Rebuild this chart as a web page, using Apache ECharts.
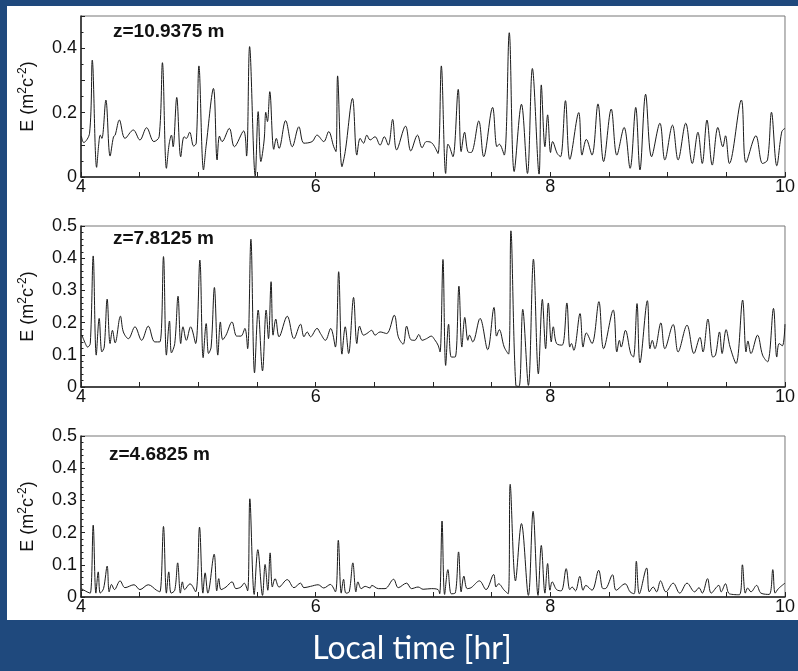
<!DOCTYPE html>
<html>
<head>
<meta charset="utf-8">
<script src="https://cdn.jsdelivr.net/npm/echarts@6/dist/echarts.min.js"></script>
<style>
html,body{margin:0;padding:0;background:#1f497d;}
#chart{width:798px;height:671px;}
</style>
</head>
<body>
<div id="chart"></div>
<script>
// Panel labels
const panelLabels = ['z=10.9375 m', 'z=7.8125 m', 'z=4.6825 m'];
const xTickValues = [4, 6, 8, 10];
const xAxisTitle = 'Local time [hr]';

// Panel 1: z=10.9375 m  (time [hr], E)
const t1 = [4.003,4.023,4.073,4.096,4.133,4.152,4.164,4.178,4.212,4.248,4.277,4.291,4.327,4.375,4.446,4.502,4.559,4.621,4.666,4.694,4.728,4.751,4.771,4.785,4.816,4.850,4.878,4.898,4.926,4.960,4.982,5.005,5.044,5.067,5.129,5.160,5.180,5.202,5.264,5.307,5.386,5.411,5.437,5.485,5.510,5.533,5.561,5.575,5.589,5.609,5.643,5.665,5.688,5.744,5.801,5.857,5.900,5.970,6.012,6.069,6.111,6.154,6.173,6.187,6.224,6.252,6.314,6.351,6.379,6.408,6.436,6.464,6.506,6.549,6.585,6.619,6.656,6.690,
  6.766,6.811,6.868,6.907,6.944,6.986,7.014,7.043,7.071,7.108,7.127,7.141,7.170,7.215,7.240,7.269,7.297,7.325,7.390,7.432,7.508,7.545,7.565,7.607,7.650,7.692,7.754,7.805,7.847,7.904,7.923,7.954,7.977,8.002,8.019,8.059,8.087,8.129,8.166,8.242,8.270,8.307,8.355,8.406,8.454,8.519,8.567,8.629,8.680,8.728,8.764,8.812,8.863,8.934,8.976,9.041,9.089,9.154,9.210,9.258,9.295,9.335,9.380,9.428,9.470,9.493,9.526,9.628,9.668,9.752,9.809,9.851,9.885,9.930,9.973,10.0];
const e1 = [0.127,0.107,0.136,0.363,0.030,0.105,0.130,0.120,0.239,0.065,0.125,0.130,0.177,0.120,0.146,0.115,0.153,0.110,0.125,0.355,0.027,0.102,0.130,0.094,0.247,0.063,0.125,0.120,0.139,0.096,0.105,0.345,0.022,0.099,0.275,0.053,0.127,0.110,0.151,0.094,0.143,0.065,0.405,0.003,0.203,0.048,0.115,0.201,0.172,0.265,0.086,0.120,0.089,0.175,0.094,0.156,0.105,0.110,0.130,0.110,0.141,0.094,0.079,0.314,0.032,0.079,0.244,0.068,0.120,0.105,0.130,0.115,0.125,0.099,0.125,0.099,0.179,0.084,
  0.158,0.081,0.130,0.091,0.110,0.107,0.094,0.073,0.345,0.011,0.102,0.094,0.063,0.272,0.079,0.139,0.079,0.076,0.174,0.063,0.216,0.094,0.102,0.068,0.448,0.017,0.226,0.011,0.337,0.009,0.286,0.094,0.193,0.076,0.110,0.073,0.063,0.237,0.055,0.200,0.068,0.117,0.068,0.227,0.048,0.211,0.068,0.154,0.027,0.216,0.022,0.257,0.063,0.167,0.053,0.161,0.053,0.167,0.042,0.139,0.042,0.177,0.037,0.154,0.094,0.128,0.042,0.239,0.045,0.128,0.042,0.053,0.201,0.035,0.141,0.151];

// Panel 2: z=7.8125 m
const t2 = [4.008,4.037,4.056,4.079,4.104,4.130,4.155,4.178,4.198,4.223,4.248,4.268,4.291,4.336,4.361,4.404,4.460,4.517,4.573,4.629,4.672,4.703,4.728,4.754,4.771,4.799,4.827,4.850,4.869,4.898,4.934,4.977,5.013,5.041,5.067,5.087,5.109,5.137,5.166,5.188,5.208,5.236,5.287,5.327,5.363,5.397,5.420,5.448,5.479,5.510,5.547,5.578,5.598,5.620,5.637,5.660,5.688,5.758,5.815,5.871,5.900,5.928,5.956,6.012,6.041,6.083,6.128,6.168,6.196,6.224,6.252,6.281,6.323,6.351,6.374,6.408,6.436,6.478,6.506,6.549,6.605,6.670,6.704,
  6.746,6.775,6.811,6.845,6.879,6.907,6.944,6.986,7.014,7.043,7.060,7.085,7.108,7.133,7.156,7.189,7.221,7.246,7.271,7.297,7.311,7.339,7.401,7.466,7.520,7.542,7.565,7.607,7.644,7.664,7.706,7.734,7.765,7.813,7.856,7.898,7.932,7.960,7.983,8.008,8.025,8.053,8.101,8.141,8.166,8.180,8.200,8.253,8.279,8.307,8.355,8.414,8.454,8.536,8.567,8.589,8.604,8.640,8.685,8.708,8.739,8.764,8.827,8.849,8.869,8.891,8.942,8.976,9.047,9.089,9.165,9.224,9.275,9.301,9.343,9.385,9.408,9.442,9.464,9.498,9.532,9.583,9.639,9.668,9.684,9.710,9.766,9.809,9.851,9.902,9.930,9.950,9.978,10.0];
const e2 = [0.161,0.135,0.124,0.135,0.407,0.099,0.213,0.109,0.124,0.273,0.135,0.176,0.137,0.220,0.171,0.150,0.187,0.145,0.189,0.140,0.140,0.405,0.099,0.205,0.106,0.135,0.282,0.135,0.187,0.145,0.187,0.135,0.394,0.091,0.197,0.104,0.124,0.309,0.099,0.202,0.147,0.161,0.202,0.158,0.158,0.182,0.119,0.459,0.044,0.239,0.050,0.239,0.150,0.327,0.161,0.211,0.156,0.220,0.150,0.195,0.156,0.171,0.156,0.182,0.166,0.145,0.182,0.124,0.358,0.102,0.187,0.104,0.278,0.135,0.189,0.161,0.166,0.176,0.161,0.171,0.166,0.223,0.156,
  0.133,0.189,0.147,0.145,0.163,0.145,0.150,0.158,0.147,0.130,0.109,0.396,0.067,0.195,0.093,0.093,0.313,0.124,0.216,0.145,0.161,0.140,0.213,0.116,0.247,0.158,0.178,0.124,0.102,0.485,0.005,0.002,0.241,0.005,0.397,0.041,0.272,0.119,0.261,0.140,0.187,0.135,0.130,0.261,0.124,0.135,0.114,0.228,0.124,0.168,0.135,0.265,0.119,0.239,0.109,0.145,0.124,0.176,0.104,0.093,0.259,0.075,0.268,0.119,0.145,0.119,0.199,0.119,0.194,0.109,0.192,0.104,0.154,0.109,0.211,0.093,0.099,0.171,0.104,0.178,0.124,0.073,0.270,0.109,0.143,0.104,0.161,0.099,0.078,0.244,0.093,0.135,0.128,0.195];

// Panel 3: z=4.6825 m
const t3 = [4.003,4.051,4.079,4.104,4.127,4.147,4.164,4.192,4.223,4.240,4.260,4.285,4.333,4.375,4.452,4.502,4.573,4.644,4.672,4.703,4.728,4.748,4.768,4.799,4.824,4.847,4.864,4.883,4.929,4.977,5.010,5.039,5.058,5.081,5.135,5.157,5.174,5.194,5.236,5.287,5.321,5.363,5.391,5.420,5.439,5.476,5.507,5.547,5.569,5.592,5.612,5.631,5.654,5.688,5.758,5.815,5.871,5.900,5.956,6.021,6.069,6.125,6.168,6.193,6.218,6.238,6.258,6.286,6.317,6.343,6.360,6.388,6.422,6.464,6.478,6.535,6.591,6.664,6.704,
  6.775,6.817,6.873,6.916,6.986,7.043,7.057,7.077,7.099,7.127,7.156,7.189,7.218,7.240,7.263,7.291,7.325,7.396,7.452,7.517,7.537,7.559,7.607,7.641,7.658,7.703,7.754,7.813,7.853,7.895,7.923,7.954,7.977,7.997,8.016,8.053,8.093,8.135,8.166,8.186,8.214,8.251,8.279,8.302,8.355,8.412,8.448,8.468,8.530,8.561,8.637,8.680,8.714,8.733,8.759,8.821,8.843,8.877,8.906,8.939,8.985,9.047,9.103,9.165,9.230,9.267,9.295,9.340,9.371,9.436,9.456,9.493,9.526,9.611,9.637,9.662,9.682,9.710,9.758,9.795,9.865,9.896,9.916,9.944,10.0];
const e3 = [0.026,0.016,0.012,0.223,0.012,0.078,0.012,0.026,0.096,0.016,0.039,0.023,0.050,0.029,0.038,0.023,0.038,0.021,0.016,0.219,0.012,0.078,0.012,0.021,0.106,0.012,0.047,0.023,0.041,0.016,0.217,0.012,0.075,0.012,0.133,0.019,0.057,0.023,0.031,0.047,0.026,0.031,0.043,0.019,0.305,0.008,0.147,0.005,0.101,0.021,0.137,0.031,0.057,0.031,0.054,0.029,0.043,0.029,0.033,0.038,0.028,0.039,0.016,0.176,0.012,0.055,0.012,0.016,0.106,0.016,0.047,0.026,0.033,0.028,0.036,0.026,0.026,0.055,0.029,
  0.043,0.026,0.031,0.024,0.026,0.023,0.010,0.236,0.008,0.085,0.010,0.012,0.140,0.016,0.065,0.026,0.029,0.050,0.023,0.070,0.031,0.041,0.021,0.010,0.350,0.050,0.228,0.005,0.266,0.005,0.160,0.012,0.104,0.021,0.047,0.023,0.019,0.088,0.023,0.031,0.019,0.064,0.021,0.036,0.021,0.083,0.026,0.026,0.069,0.021,0.041,0.016,0.010,0.111,0.010,0.090,0.016,0.031,0.016,0.050,0.016,0.043,0.012,0.043,0.016,0.029,0.012,0.057,0.012,0.036,0.016,0.041,0.010,0.007,0.100,0.012,0.028,0.016,0.036,0.012,0.008,0.085,0.012,0.026,0.043];

const panels = [[t1, e1], [t2, e2], [t3, e3]];

const chart = echarts.init(document.getElementById('chart'), null, {renderer: 'canvas'});

const grids = [
  {left: 81, top: 16, width: 708, height: 161},
  {left: 81, top: 226, width: 709, height: 161},
  {left: 81, top: 436, width: 708, height: 161}
].map(g => Object.assign(g, {show: true, borderColor: '#777', borderWidth: 1, backgroundColor: 'transparent'}));

const FONT = 'Arial';
const axisFont = {fontFamily: FONT, fontSize: 18, color: '#111'};

const xAxes = grids.map((g, i) => ({
  type: 'value', gridIndex: i, min: xTickValues[0], max: xTickValues[xTickValues.length - 1], interval: 2,
  axisLine: {show: true, lineStyle: {color: '#222', width: 1.5}},
  axisTick: {show: true, inside: true, length: 5, lineStyle: {color: '#222'}},
  minorTick: {show: true, splitNumber: 4, length: 5, lineStyle: {color: '#222'}},
  splitLine: {show: false},
  axisLabel: Object.assign({margin: 1}, axisFont)
}));

const yAxes = grids.map((g, i) => ({
  type: 'value', gridIndex: i, min: 0, max: 0.5, interval: 0.1,
  axisLine: {show: true, lineStyle: {color: '#222', width: 1.5}},
  axisTick: {show: true, inside: true, length: 4, lineStyle: {color: '#222'}},
  minorTick: {show: true, splitNumber: i === 0 ? 2 : 5, length: 2.5, lineStyle: {color: '#222'}},
  splitLine: {show: false},
  axisLabel: Object.assign({
    margin: 4,
    formatter: function (v) {
      const k = Math.round(v * 10);
      if (i === 0 && (k % 2 !== 0 || k === 5)) return '';
      return k === 0 ? '0' : (k / 10).toFixed(1);
    }
  }, axisFont),
  name: 'E (m{s|2}c{s|-2})',
  nameLocation: 'middle',
  nameGap: 42,
  nameTextStyle: {
    fontFamily: FONT, fontSize: 18, color: '#111', lineHeight: 22,
    rich: {s: {fontFamily: FONT, fontSize: 12, color: '#111', verticalAlign: 'top', lineHeight: 12}}
  }
}));

const series = panels.map((p, i) => ({
  type: 'line', xAxisIndex: i, yAxisIndex: i,
  data: p[0].map((t, j) => [t, p[1][j]]),
  symbol: 'none', smooth: 0.35,
  lineStyle: {color: '#1a1a1a', width: 1},
  animation: false
}));

const labelPos = [[113, 22], [113, 229], [109, 445]];

chart.setOption({
  backgroundColor: '#1f497d',
  animation: false,
  grid: grids,
  xAxis: xAxes,
  yAxis: yAxes,
  series: series,
  graphic: [
    {type: 'rect', z: -10, shape: {x: 7, y: 6, width: 791, height: 614}, style: {fill: '#ffffff'}},
    ...panelLabels.map((txt, i) => ({
      type: 'text', x: labelPos[i][0], y: labelPos[i][1], z: 10,
      style: {text: txt, font: 'bold 19px Arial, sans-serif', fill: '#111'}
    })),
    {type: 'text', x: 412, y: 665, z: 10,
     style: {text: xAxisTitle, font: '32px Lato, "Open Sans", sans-serif', fill: '#ffffff', textAlign: 'center', textVerticalAlign: 'bottom'}}
  ]
});
</script>
</body>
</html>
